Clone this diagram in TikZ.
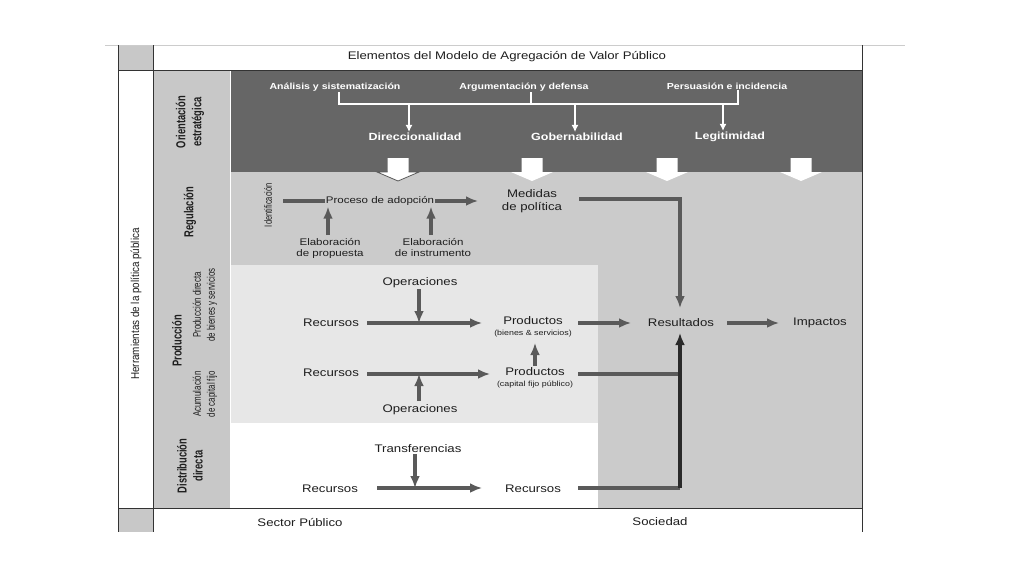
\documentclass[tikz,border=0pt]{standalone}
\usepackage{fontspec}
\setmainfont{Liberation Sans}[FakeStretch=1.2]
\newfontfamily\narrowfont{Liberation Sans}[FakeStretch=0.72]
\newfontfamily\narrowwide{Liberation Sans}[FakeStretch=0.86]
\usetikzlibrary{arrows.meta}
\definecolor{band}{HTML}{666666}
\definecolor{reggray}{HTML}{CBCBCB}
\definecolor{prodgray}{HTML}{E7E7E7}
\definecolor{colgray}{HTML}{C8C8C8}
\definecolor{linegray}{HTML}{5A5A5A}
\definecolor{darkline}{HTML}{2A2A2A}
\definecolor{txt}{HTML}{1E1E1E}
\definecolor{frame}{HTML}{333333}
\tikzset{
  lbl/.style={font=\fontsize{11}{12.5}\selectfont, text=txt, inner sep=1pt, align=center},
  mid/.style={font=\fontsize{9.6}{11}\selectfont, text=txt, inner sep=1pt, align=center},
  wsmall/.style={font=\bfseries\fontsize{8.8}{10}\selectfont, text=white, inner sep=1pt},
  wbig/.style={font=\bfseries\fontsize{10.4}{12}\selectfont, text=white, inner sep=1pt},
  rotb/.style={font=\narrowfont\bfseries\fontsize{13}{16}\selectfont, text=txt, rotate=90, align=center, inner sep=0pt},
  rotn/.style={font=\narrowfont\fontsize{11}{14}\selectfont, text=txt, rotate=90, align=center, inner sep=0pt},
  flow/.style={draw=linegray, line width=3.4pt, -{Latex[length=12pt,width=10pt]}},
  plain/.style={draw=linegray, line width=3.4pt},
  wline/.style={draw=white, line width=1.5pt},
  warrow/.style={draw=white, line width=1.5pt, -{Latex[length=7pt,width=7pt]}},
}
\begin{document}
\begin{tikzpicture}[x=1pt,y=-1pt]
\useasboundingbox (0,0) rectangle (1024,576);
\fill[white] (0,0) rectangle (1024,576);
% background areas
\fill[colgray] (118,45) rectangle (153,70);
\fill[colgray] (118,508) rectangle (153,532);
\fill[colgray] (153,70) rectangle (230,508);
\fill[band] (231,70) rectangle (862,172);
\fill[reggray] (231,172) rectangle (862,508);
\fill[prodgray] (231,265) rectangle (598,423);
\fill[white] (231,423) rectangle (598,508);
% frame
\draw[gray!40, line width=0.8pt] (105,45) -- (905,45);
\draw[frame, line width=0.9pt] (118,45) -- (118,532);
\draw[frame, line width=0.9pt] (153,45) -- (153,532);
\draw[frame, line width=0.9pt] (862,45) -- (862,532);
\draw[frame, line width=0.9pt] (118,70) -- (862,70);
\draw[frame, line width=0.9pt] (118,508) -- (862,508);
% title and bottom
\node[lbl] (title) at (507,57) {Elementos del Modelo de Agregación de Valor Público};
\node[lbl] (sp) at (300,522) {Sector Público};
\node[lbl] (soc) at (660,522) {Sociedad};
% left labels
\node[font=\narrowwide\fontsize{11.5}{12}\selectfont, text=txt, rotate=90, inner sep=0pt] (herr) at (136,304) {Herramientas de la política pública};
\node[rotb] (oe) at (190,122) {Orientación\\estratégica};
\node[rotb] (reg) at (190,212) {Regulación};
\node[rotb] (prod) at (177,341) {Producción};
\node[rotn] (pdb) at (205,305) {Producción directa\\de bienes y servicios};
\node[rotn] (acf) at (205,394) {Acumulación\\de capital fijo};
\node[rotb] (dd) at (190,466) {Distribución\\directa};
% band
\node[wsmall] (ana) at (335,87) {Análisis y sistematización};
\node[wsmall] (arg) at (524,87) {Argumentación y defensa};
\node[wsmall] (per) at (727,86) {Persuasión e incidencia};
\node[wbig] (dir) at (415,137) {Direccionalidad};
\node[wbig] (gob) at (577,137) {Gobernabilidad};
\node[wbig] (leg) at (730,137) {Legitimidad};
\coordinate (bL) at (339,104);
\coordinate (bR) at (738,104);
\coordinate (bA) at (531,104);
\coordinate (d1) at (409,104);
\coordinate (d2) at (575,104);
\coordinate (d3) at (723,104);
\draw[wline] (ana.south -| bL) -- (bL) -- (bR) -- (per.south -| bR);
\draw[wline] (arg.south -| bA) -- (bA);
\draw[warrow] (d1) -- (d1 |- dir.north);
\draw[warrow] (d2) -- (d2 |- gob.north);
\draw[warrow] (d3) -- (d3 |- leg.north);
% block arrows
\foreach \cx in {398,532,667,801}{
  \fill[white] (\cx-10.5,158) -- (\cx+10.5,158) -- (\cx+10.5,172) -- (\cx+21,172) -- (\cx,181) -- (\cx-21,172) -- (\cx-10.5,172) -- cycle;
}
\draw[linegray, line width=0.8pt] (398-10.5,172) -- (398-21,172) -- (398,181) -- (398+21,172) -- (398+10.5,172);
% regulacion
\node[font=\narrowfont\fontsize{10.5}{11}\selectfont, text=txt, rotate=90, inner sep=1pt] (idn) at (268,205) {Identificación};
\node[mid] (pro) at (380,201) {Proceso de adopción};
\node[lbl] (med) at (532,201) {Medidas\\de política};
\node[mid] (ep) at (330,248) {Elaboración\\de propuesta};
\node[mid] (ei) at (433,248) {Elaboración\\de instrumento};
\coordinate (idr) at (283,201);
\coordinate (pme) at (478,201);
\draw[plain] (idr) -- (pro.west);
\draw[flow] (pro.east) -- (pme);
\coordinate (ep1) at (328,235);
\coordinate (ei1) at (431,235);
\draw[flow] (ep1) -- (ep1 |- pro.south);
\draw[flow] (ei1) -- (ei1 |- pro.south);
% production
\node[lbl] (op1) at (420,283) {Operaciones};
\node[lbl] (rec1) at (331,323) {Recursos};
\node[inner sep=1pt, align=center, text=txt] (pb) at (533,327) {\fontsize{11}{11}\selectfont Productos\\[-1pt]\fontsize{7.4}{8}\selectfont (bienes \& servicios)};
\node[lbl] (res) at (681,323) {Resultados};
\node[lbl] (imp) at (820,323) {Impactos};
\node[lbl] (rec2) at (331,373) {Recursos};
\node[inner sep=1pt, align=center, text=txt] (pc) at (535,378) {\fontsize{11}{11}\selectfont Productos\\[-1pt]\fontsize{7.4}{8}\selectfont (capital fijo público)};
\node[lbl] (op2) at (420,410) {Operaciones};
% distribution
\node[lbl] (tr) at (418,449) {Transferencias};
\node[lbl] (rec3) at (330,489) {Recursos};
\node[lbl] (rec4) at (533,489) {Recursos};
% flow coordinates
\coordinate (j1) at (419,323);
\coordinate (j2) at (419,374);
\coordinate (j3) at (415,488);
\coordinate (r1s) at (367,323);
\coordinate (r1e) at (482,323);
\coordinate (r2s) at (367,374);
\coordinate (r2e) at (490,374);
\coordinate (o2s) at (419,401);
\coordinate (pcu) at (535,366);
\coordinate (pbd) at (535,343);
\coordinate (pbe) at (578,323);
\coordinate (rsw) at (631,323);
\coordinate (rse) at (727,323);
\coordinate (imw) at (779,323);
\coordinate (r3s) at (377,488);
\coordinate (r3e) at (482,488);
\coordinate (m1) at (579,199);
\coordinate (m2) at (680,199);
\coordinate (resN) at (680,308);
\coordinate (resS) at (680,333);
\coordinate (c1) at (578,374);
\coordinate (c2) at (680,374);
\coordinate (e1) at (578,488);
\coordinate (e2) at (680,488);
% flows
\draw[flow] (r1s) -- (r1e);
\draw[flow] (op1.south -| j1) -- (j1);
\draw[flow] (r2s) -- (r2e);
\draw[flow] (o2s) -- (j2);
\draw[flow] (pcu) -- (pbd);
\draw[flow] (pbe) -- (rsw);
\draw[flow] (rse) -- (imw);
\draw[flow] (r3s) -- (r3e);
\draw[flow] (tr.south -| j3) -- (j3);
% to resultados
\draw[flow] (m1) -- (m2) -- (resN);
\draw[plain] (c1) -- (c2);
\draw[plain] (e1) -- (e2);
\draw[flow, draw=darkline] (e2) -- (resS);
\end{tikzpicture}
\end{document}
